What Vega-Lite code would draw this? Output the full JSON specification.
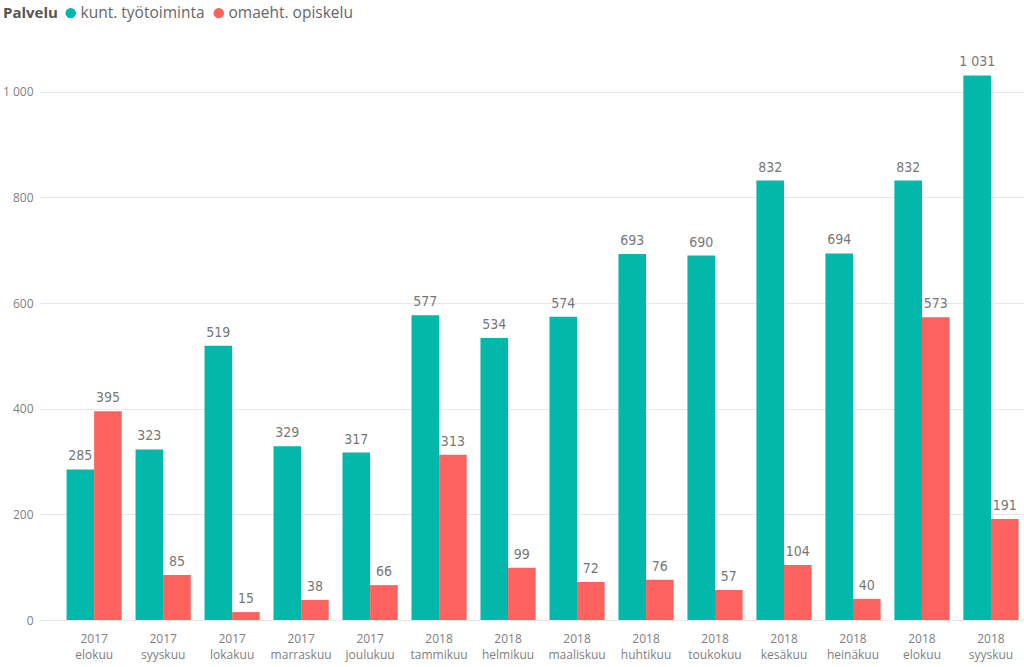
{
  "$schema": "https://vega.github.io/schema/vega-lite/v6.json",
  "width": 984,
  "height": 581,
  "autosize": {"type": "none"},
  "padding": {"left": 40, "top": 39, "right": 0, "bottom": 47},
  "config": {
    "view": {"stroke": null},
    "locale": {"number": {"decimal": ",", "thousands": " ", "grouping": [3], "currency": ["", " €"]}},
    "font": "Open Sans"
  },
  "data": {
    "values": [
      {"kk": "2017 elokuu", "palvelu": "kunt. työtoiminta", "arvo": 285},
      {"kk": "2017 elokuu", "palvelu": "omaeht. opiskelu", "arvo": 395},
      {"kk": "2017 syyskuu", "palvelu": "kunt. työtoiminta", "arvo": 323},
      {"kk": "2017 syyskuu", "palvelu": "omaeht. opiskelu", "arvo": 85},
      {"kk": "2017 lokakuu", "palvelu": "kunt. työtoiminta", "arvo": 519},
      {"kk": "2017 lokakuu", "palvelu": "omaeht. opiskelu", "arvo": 15},
      {"kk": "2017 marraskuu", "palvelu": "kunt. työtoiminta", "arvo": 329},
      {"kk": "2017 marraskuu", "palvelu": "omaeht. opiskelu", "arvo": 38},
      {"kk": "2017 joulukuu", "palvelu": "kunt. työtoiminta", "arvo": 317},
      {"kk": "2017 joulukuu", "palvelu": "omaeht. opiskelu", "arvo": 66},
      {"kk": "2018 tammikuu", "palvelu": "kunt. työtoiminta", "arvo": 577},
      {"kk": "2018 tammikuu", "palvelu": "omaeht. opiskelu", "arvo": 313},
      {"kk": "2018 helmikuu", "palvelu": "kunt. työtoiminta", "arvo": 534},
      {"kk": "2018 helmikuu", "palvelu": "omaeht. opiskelu", "arvo": 99},
      {"kk": "2018 maaliskuu", "palvelu": "kunt. työtoiminta", "arvo": 574},
      {"kk": "2018 maaliskuu", "palvelu": "omaeht. opiskelu", "arvo": 72},
      {"kk": "2018 huhtikuu", "palvelu": "kunt. työtoiminta", "arvo": 693},
      {"kk": "2018 huhtikuu", "palvelu": "omaeht. opiskelu", "arvo": 76},
      {"kk": "2018 toukokuu", "palvelu": "kunt. työtoiminta", "arvo": 690},
      {"kk": "2018 toukokuu", "palvelu": "omaeht. opiskelu", "arvo": 57},
      {"kk": "2018 kesäkuu", "palvelu": "kunt. työtoiminta", "arvo": 832},
      {"kk": "2018 kesäkuu", "palvelu": "omaeht. opiskelu", "arvo": 104},
      {"kk": "2018 heinäkuu", "palvelu": "kunt. työtoiminta", "arvo": 694},
      {"kk": "2018 heinäkuu", "palvelu": "omaeht. opiskelu", "arvo": 40},
      {"kk": "2018 elokuu", "palvelu": "kunt. työtoiminta", "arvo": 832},
      {"kk": "2018 elokuu", "palvelu": "omaeht. opiskelu", "arvo": 573},
      {"kk": "2018 syyskuu", "palvelu": "kunt. työtoiminta", "arvo": 1031},
      {"kk": "2018 syyskuu", "palvelu": "omaeht. opiskelu", "arvo": 191}
    ]
  },
  "encoding": {
    "x": {
      "field": "kk",
      "type": "nominal",
      "sort": null,
      "scale": {"paddingInner": 0.2, "paddingOuter": 0.232, "align": 0.83},
      "axis": {
        "title": null,
        "labelAngle": 0,
        "labelExpr": "split(datum.label, ' ')",
        "labelFont": "Open Sans",
        "labelFontSize": 12,
        "labelColor": "#808080",
        "labelLineHeight": 16,
        "labelPadding": 13,
        "ticks": false,
        "domain": false
      }
    },
    "xOffset": {"field": "palvelu", "type": "nominal"},
    "y": {
      "field": "arvo",
      "type": "quantitative",
      "scale": {"domain": [0, 1100], "nice": false},
      "axis": {
        "title": null,
        "values": [0, 200, 400, 600, 800, 1000],
        "format": ",d",
        "labelFont": "Open Sans",
        "labelFontSize": 12,
        "labelColor": "#808080",
        "labelPadding": 7,
        "ticks": false,
        "domain": false,
        "gridColor": "#E8E8E8",
        "gridWidth": 1
      }
    },
    "color": {
      "field": "palvelu",
      "type": "nominal",
      "scale": {"domain": ["kunt. työtoiminta", "omaeht. opiskelu"], "range": ["#01B8AA", "#FD625E"]},
      "legend": {
        "title": "Palvelu",
        "orient": "none",
        "legendX": -37,
        "legendY": -34,
        "direction": "horizontal",
        "titleOrient": "left",
        "titleFont": "Open Sans",
        "titleFontSize": 15,
        "titleFontWeight": "bold",
        "titleColor": "#555555",
        "titlePadding": 5,
        "labelFont": "Open Sans",
        "labelFontSize": 15.5,
        "labelColor": "#666666",
        "symbolType": "circle",
        "symbolSize": 110,
        "symbolStrokeWidth": 0,
        "labelOffset": 2,
        "columnPadding": 6
      }
    }
  },
  "layer": [
    {"mark": {"type": "bar"}},
    {
      "mark": {
        "type": "text",
        "baseline": "bottom",
        "dy": -6,
        "font": "DejaVu Sans Condensed",
        "fontSize": 14,
        "color": "#777777"
      },
      "encoding": {
        "text": {"field": "arvo", "type": "quantitative", "format": ",d"},
        "color": {"value": "#777777"}
      }
    }
  ]
}
